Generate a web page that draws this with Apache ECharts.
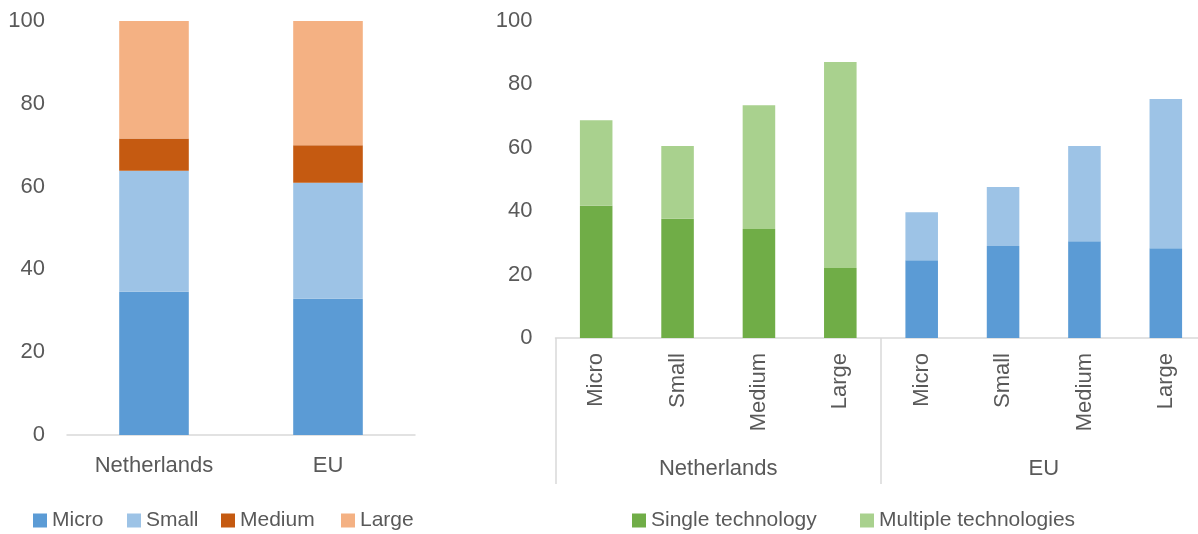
<!DOCTYPE html>
<html>
<head>
<meta charset="utf-8">
<script src="https://cdn.jsdelivr.net/npm/echarts@6/dist/echarts.min.js"></script>
<style>
html,body{margin:0;padding:0;background:#fff;overflow:hidden;}
#c{width:1212px;height:534px;}
</style>
</head>
<body>
<div id="c"></div>
<script>
// Left chart data
var countries = ['Netherlands', 'EU'];
var micro = [34.6, 32.9];
var small = [29.2, 28.0];
var medium = [7.8, 9.1];
var large = [28.4, 30.0];

// Right chart data
var sizeCats = ['Micro', 'Small', 'Medium', 'Large', 'Micro', 'Small', 'Medium', 'Large'];
var groupCats = ['Netherlands', 'EU'];
var singleTech = [41.7, 37.6, 34.4, 22.1, 24.5, 29.0, 30.5, 28.3];
var multipleTech = [27.0, 23.0, 39.0, 65.0, 15.2, 18.6, 30.1, 47.1];
var isEU = [false, false, false, false, true, true, true, true];

var FONT = 'Liberation Sans';
var TXT = '#595959';
var C = {micro:'#5B9BD5', small:'#9DC3E6', medium:'#C55A11', large:'#F4B183', single:'#70AD47', multiple:'#A9D18E'};

function colored(arr, eu) {
  return arr.map(function (v, i) {
    return isEU[i] ? {value: v, itemStyle: {color: eu}} : v;
  });
}

var chart = echarts.init(document.getElementById('c'));
var textStyle = {fontFamily: FONT, fontSize: 22, color: TXT};

function legendItem(name, left) {
  return {
    data: [name], left: left, top: 510, padding: 0, itemWidth: 14, itemHeight: 14, itemGap: 0,
    icon: 'rect', textStyle: {fontFamily: FONT, fontSize: 21, color: TXT},
    selectedMode: false
  };
}

chart.setOption({
  animation: false,
  textStyle: {fontFamily: FONT},
  legend: [
    legendItem('Micro', 33), legendItem('Small', 127), legendItem('Medium', 221), legendItem('Large', 341),
    legendItem('Single technology', 632), legendItem('Multiple technologies', 860)
  ],
  grid: [
    {left: 67, width: 348, top: 21, height: 414},
    {left: 555.5, width: 651, top: 21, height: 317}
  ],
  xAxis: [
    {gridIndex: 0, type: 'category', data: countries,
     axisLine: {show: true, lineStyle: {color: '#D9D9D9', width: 1.5}},
     axisTick: {show: false},
     axisLabel: Object.assign({margin: 20}, textStyle)},
    {gridIndex: 1, type: 'category', data: sizeCats,
     axisLine: {show: true, lineStyle: {color: '#D9D9D9', width: 1.5}},
     axisTick: {show: false},
     axisLabel: Object.assign({margin: 15, rotate: 90, interval: 0}, textStyle)},
    {gridIndex: 1, type: 'category', data: groupCats, position: 'bottom',
     axisLine: {show: false},
     axisTick: {show: true, length: 146, interval: 0, lineStyle: {color: '#D9D9D9', width: 1.5}},
     axisLabel: Object.assign({margin: 120, interval: 0}, textStyle)}
  ],
  yAxis: [
    {gridIndex: 0, type: 'value', min: 0, max: 100, interval: 20,
     axisLine: {show: false}, axisTick: {show: false}, splitLine: {show: false},
     axisLabel: Object.assign({margin: 22}, textStyle)},
    {gridIndex: 1, type: 'value', min: 0, max: 100, interval: 20,
     axisLine: {show: false}, axisTick: {show: false}, splitLine: {show: false},
     axisLabel: Object.assign({margin: 23}, textStyle)}
  ],
  series: [
    {name: 'Micro', type: 'bar', stack: 'a', xAxisIndex: 0, yAxisIndex: 0, barWidth: '40%', data: micro, itemStyle: {color: C.micro}},
    {name: 'Small', type: 'bar', stack: 'a', xAxisIndex: 0, yAxisIndex: 0, data: small, itemStyle: {color: C.small}},
    {name: 'Medium', type: 'bar', stack: 'a', xAxisIndex: 0, yAxisIndex: 0, data: medium, itemStyle: {color: C.medium}},
    {name: 'Large', type: 'bar', stack: 'a', xAxisIndex: 0, yAxisIndex: 0, data: large, itemStyle: {color: C.large}},
    {name: 'Single technology', type: 'bar', stack: 'b', xAxisIndex: 1, yAxisIndex: 1, barWidth: '40%',
     data: colored(singleTech, C.micro), itemStyle: {color: C.single}},
    {name: 'Multiple technologies', type: 'bar', stack: 'b', xAxisIndex: 1, yAxisIndex: 1,
     data: colored(multipleTech, C.small), itemStyle: {color: C.multiple}}
  ]
});
</script>
</body>
</html>
